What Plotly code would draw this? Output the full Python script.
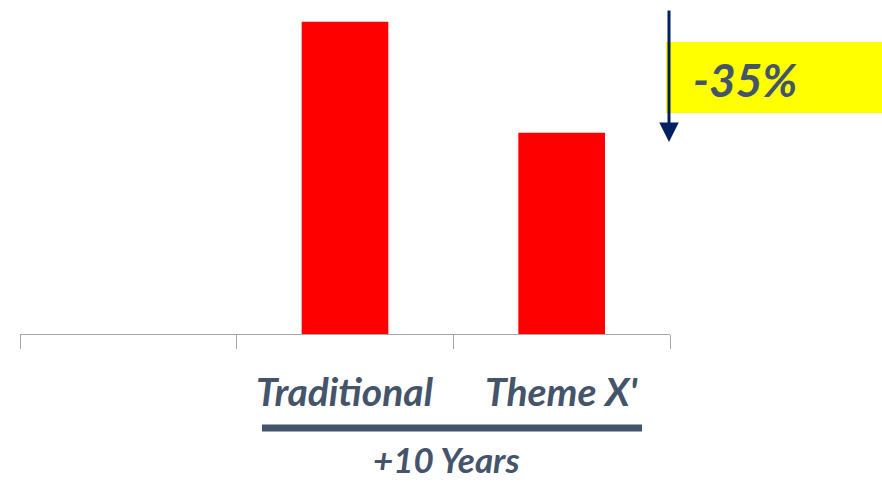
import plotly.graph_objects as go

categories = ["", "Traditional", "Theme X'"]
values = [None, 100, 64.5]
change_label = "-35%"
group_label = "+10 Years"

TEXT_COLOR = "#44546A"
FONT = "Comic Sans MS, Lato, sans-serif"

x_idx = list(range(len(categories)))

fig = go.Figure()
fig.add_trace(go.Bar(
    x=x_idx, y=values, width=0.4,
    marker=dict(color="#FF0000", line=dict(width=0)),
    hoverinfo="skip",
))

W, H = 882, 482
ml, mr, mt, mb = 20, 212, 0, 148
pw, ph = W - ml - mr, H - mt - mb

def px_x(p):
    return (p - ml) / pw

def px_y(p):
    return (H - mb - p) / ph

annotations = []
for i, c in enumerate(categories):
    if c:
        annotations.append(dict(
            x=i, xref="x", y=px_y(391), yref="paper", text=c, showarrow=False,
            xanchor="center", yanchor="middle",
            font=dict(family=FONT, size=39, color=TEXT_COLOR, style="italic", weight="bold"),
        ))
annotations.append(dict(
    x=px_x(446), xref="paper", y=px_y(459), yref="paper", text=group_label, showarrow=False,
    xanchor="center", yanchor="middle", borderpad=0,
    font=dict(family=FONT, size=35, color=TEXT_COLOR, style="italic", weight="bold"),
))
annotations.append(dict(
    x=px_x(745), xref="paper", y=px_y(79), yref="paper", text=change_label, showarrow=False,
    xanchor="center", yanchor="middle",
    font=dict(family=FONT, size=46, color=TEXT_COLOR, style="italic", weight="bold"),
))
annotations.append(dict(
    x=px_x(669), xref="paper", y=px_y(142), yref="paper", text="",
    showarrow=True, ax=0, ay=-133, arrowhead=2, arrowsize=1.3, arrowwidth=3,
    arrowcolor="#002060", standoff=0,
))

shapes = [
    dict(type="rect", xref="paper", yref="paper",
         x0=px_x(666), x1=px_x(882), y0=px_y(113), y1=px_y(42),
         fillcolor="#FFFF00", line=dict(width=0), layer="below"),
    dict(type="line", xref="paper", yref="paper",
         x0=px_x(262), x1=px_x(642), y0=px_y(428), y1=px_y(428),
         line=dict(color=TEXT_COLOR, width=7)),
]

fig.update_layout(
    width=W, height=H,
    margin=dict(l=ml, r=mr, t=mt, b=mb, pad=0),
    paper_bgcolor="white", plot_bgcolor="white",
    showlegend=False,
    bargap=0.6,
    xaxis=dict(range=[-0.5, len(categories) - 0.5], tickvals=[-0.5, 0.5, 1.5, 2.5],
               showticklabels=False, ticks="outside", ticklen=14, tickcolor="#A6A6A6",
               tickwidth=1, showline=True, linecolor="#A6A6A6", linewidth=1,
               showgrid=False, zeroline=False, fixedrange=True),
    yaxis=dict(range=[0, 107], visible=False, showgrid=False, zeroline=False, fixedrange=True),
    annotations=annotations,
    shapes=shapes,
)

fig.write_html("out.html", config={"displayModeBar": False})
